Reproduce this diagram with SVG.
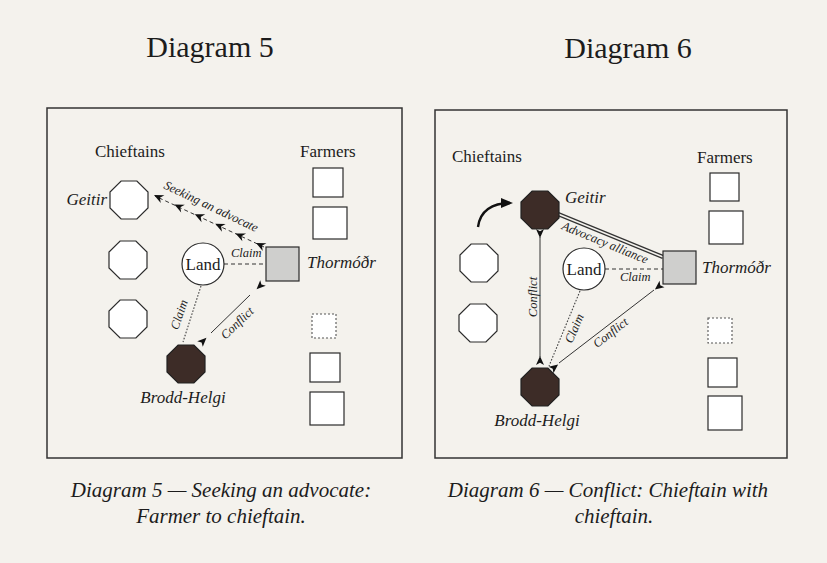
<svg xmlns="http://www.w3.org/2000/svg" xmlns:xlink="http://www.w3.org/1999/xlink" width="827" height="563" viewBox="0 0 827 563">
<style>
.t{font-family:"Liberation Serif","Times New Roman",serif;fill:#1c1c1c}
.title{font-size:30px}
.hdr{font-size:17px}
.nm{font-size:17px;font-style:italic}
.lb{font-size:12.5px;font-style:italic}
.cap{font-size:21px;font-style:italic}
.frame{fill:none;stroke:#333;stroke-width:1.5}
.oct{fill:#fff;stroke:#2a2a2a;stroke-width:1.2}
.octd{fill:#3d2c27;stroke:#222;stroke-width:1.2}
.sq{fill:#fff;stroke:#2a2a2a;stroke-width:1.2}
.sqg{fill:#cfcfcd;stroke:#2a2a2a;stroke-width:1.2}
.sqd{fill:#fff;stroke:#555;stroke-width:1.1;stroke-dasharray:2 2}
.land{fill:#fff;stroke:#2a2a2a;stroke-width:1.2}
.dash{fill:none;stroke:#333;stroke-width:1;stroke-dasharray:4 3}
.dot{fill:none;stroke:#444;stroke-width:1.1;stroke-dasharray:1.6 1.6}
.solid{fill:none;stroke:#333;stroke-width:1}
.none{fill:none;stroke:none}
</style>
<defs>
<polygon id="octagon" points="-7.9,-19 7.9,-19 19,-7.9 19,7.9 7.9,19 -7.9,19 -19,7.9 -19,-7.9"/>
<marker id="seek" markerUnits="userSpaceOnUse" viewBox="-12 -6 24 12" markerWidth="24" markerHeight="12" refX="0" refY="0" orient="auto">
<path d="M0,0 L-9.5,-4.3 L-6.5,0 L-9.5,4.3 Z" fill="#111"/>
</marker>
<marker id="inStart" markerUnits="userSpaceOnUse" viewBox="-12 -6 24 12" markerWidth="24" markerHeight="12" refX="0" refY="0" orient="auto">
<path d="M9,0 L0,-4 L2.2,0 L0,4 Z" fill="#111"/>
</marker>
<marker id="inEnd" markerUnits="userSpaceOnUse" viewBox="-12 -6 24 12" markerWidth="24" markerHeight="12" refX="0" refY="0" orient="auto">
<path d="M-9,0 L0,-4 L-2.2,0 L0,4 Z" fill="#111"/>
</marker>
<marker id="curveHead" markerUnits="userSpaceOnUse" viewBox="-12 -6 24 12" markerWidth="24" markerHeight="12" refX="0" refY="0" orient="auto">
<path d="M3,0 L-9,-5 L-9,5 Z" fill="#111"/>
</marker>
</defs>
<rect x="0" y="0" width="827" height="563" fill="#f4f2ed"/>

<text class="t title" x="210" y="57" text-anchor="middle">Diagram 5</text>
<text class="t title" x="628" y="58" text-anchor="middle">Diagram 6</text>

<!-- ========== Diagram 5 ========== -->
<g id="d5">
<rect class="frame" x="47" y="108" width="355" height="350"/>
<text class="t hdr" x="95" y="157">Chieftains</text>
<text class="t hdr" x="300" y="157">Farmers</text>

<g id="d5-connectors">
<line class="dash" x1="264" y1="247" x2="155" y2="196"/>
<polyline class="none" points="256,243 235.6,233.4 215.2,223.8 194.8,214.2 174.4,204.6 154,195" marker-start="url(#seek)" marker-mid="url(#seek)" marker-end="url(#seek)"/>
<text class="t lb" transform="translate(163,188) rotate(25.5)" font-size="13.5">Seeking an advocate</text>
<line class="dash" x1="224" y1="264" x2="266" y2="264"/>
<text class="t lb" x="231" y="257">Claim</text>
<line class="dot" x1="201" y1="286" x2="183" y2="342"/>
<text class="t lb" transform="translate(183,316) rotate(-71)" text-anchor="middle">Claim</text>
<line class="solid" x1="250" y1="295" x2="211" y2="333"/>
<path class="none" d="M263,283 L200,344" marker-start="url(#inStart)" marker-end="url(#inEnd)"/>
<text class="t lb" transform="translate(240,326) rotate(-44)" text-anchor="middle">Conflict</text>
</g>

<g id="d5-geitir"><use href="#octagon" class="oct" x="129" y="200"/><text class="t nm" x="107" y="205" text-anchor="end">Geitir</text></g>
<g id="d5-chief2"><use href="#octagon" class="oct" x="128" y="260"/></g>
<g id="d5-chief3"><use href="#octagon" class="oct" x="128" y="319"/></g>
<g id="d5-brodd"><use href="#octagon" class="octd" x="186" y="364"/><text class="t nm" x="183" y="403" text-anchor="middle">Brodd-Helgi</text></g>
<g id="d5-land"><circle class="land" cx="203" cy="264" r="21"/><text class="t hdr" x="203" y="270" text-anchor="middle">Land</text></g>
<g id="d5-farmer1"><rect class="sq" x="313" y="168" width="30" height="29"/></g>
<g id="d5-farmer2"><rect class="sq" x="313" y="207" width="34" height="32"/></g>
<g id="d5-thormodr"><rect class="sqg" x="266" y="247" width="33" height="34"/><text class="t nm" x="307" y="268">Thormóðr</text></g>
<g id="d5-farmer3"><rect class="sqd" x="312" y="314" width="24" height="24"/></g>
<g id="d5-farmer4"><rect class="sq" x="310" y="353" width="30" height="29"/></g>
<g id="d5-farmer5"><rect class="sq" x="310" y="392" width="34" height="33"/></g>
</g>

<!-- ========== Diagram 6 ========== -->
<g id="d6">
<rect class="frame" x="435" y="110" width="352" height="348"/>
<text class="t hdr" x="452" y="162">Chieftains</text>
<text class="t hdr" x="697" y="163">Farmers</text>

<g id="d6-connectors">
<path d="M478,227 C480,211 492,203 510,203" fill="none" stroke="#111" stroke-width="2.4" marker-end="url(#curveHead)"/>
<line x1="558" y1="214" x2="663" y2="257" stroke="#333" stroke-width="4.2"/>
<line x1="558" y1="214" x2="663" y2="257" stroke="#f4f2ed" stroke-width="1.6"/>
<text class="t lb" transform="translate(561,229) rotate(22.3)" font-size="13">Advocacy alliance</text>
<line class="dash" x1="605" y1="269" x2="663" y2="269"/>
<text class="t lb" x="620" y="281">Claim</text>
<line class="solid" x1="540" y1="237" x2="540" y2="357"/>
<path class="none" d="M540,229 L540,365" marker-start="url(#inStart)" marker-end="url(#inEnd)"/>
<text class="t lb" transform="translate(537,297) rotate(-90)" text-anchor="middle">Conflict</text>
<line class="dot" x1="580" y1="291" x2="549" y2="366"/>
<text class="t lb" transform="translate(578,330) rotate(-67)" text-anchor="middle">Claim</text>
<line class="solid" x1="654" y1="290" x2="559" y2="363"/>
<path class="none" d="M662,284 L551,370" marker-start="url(#inStart)" marker-end="url(#inEnd)"/>
<text class="t lb" transform="translate(613,336) rotate(-37.5)" text-anchor="middle">Conflict</text>
</g>

<g id="d6-geitir"><use href="#octagon" class="octd" x="540" y="210"/><text class="t nm" x="565" y="203">Geitir</text></g>
<g id="d6-chief2"><use href="#octagon" class="oct" x="479" y="263"/></g>
<g id="d6-chief3"><use href="#octagon" class="oct" x="478" y="323"/></g>
<g id="d6-brodd"><use href="#octagon" class="octd" x="540" y="387"/><text class="t nm" x="537" y="426" text-anchor="middle">Brodd-Helgi</text></g>
<g id="d6-land"><circle class="land" cx="584" cy="269" r="21"/><text class="t hdr" x="584" y="275" text-anchor="middle">Land</text></g>
<g id="d6-farmer1"><rect class="sq" x="710" y="173" width="29" height="28"/></g>
<g id="d6-farmer2"><rect class="sq" x="709" y="211" width="34" height="33"/></g>
<g id="d6-thormodr"><rect class="sqg" x="663" y="251" width="33" height="33"/><text class="t nm" x="702" y="273">Thormóðr</text></g>
<g id="d6-farmer3"><rect class="sqd" x="708" y="318" width="24" height="25"/></g>
<g id="d6-farmer4"><rect class="sq" x="708" y="358" width="29" height="29"/></g>
<g id="d6-farmer5"><rect class="sq" x="708" y="396" width="34" height="34"/></g>
</g>

<text class="t cap" x="221" y="497" text-anchor="middle">Diagram 5 — Seeking an advocate:</text>
<text class="t cap" x="221" y="523" text-anchor="middle">Farmer to chieftain.</text>
<text class="t cap" x="608" y="497" text-anchor="middle">Diagram 6 — Conflict: Chieftain with</text>
<text class="t cap" x="614" y="523" text-anchor="middle">chieftain.</text>
</svg>
